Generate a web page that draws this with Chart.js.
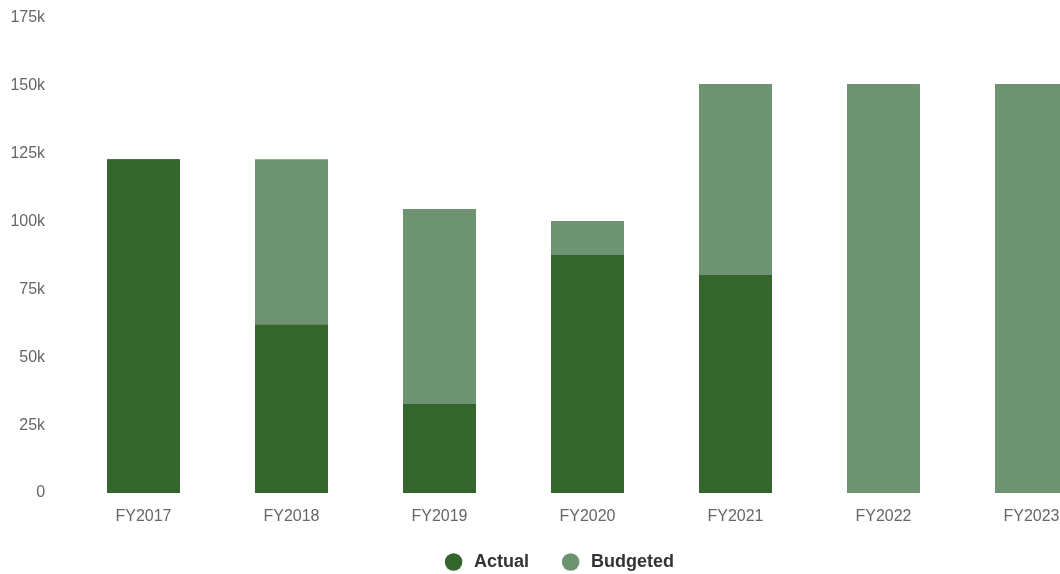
<!DOCTYPE html>
<html>
<head>
<meta charset="utf-8">
<script src="https://cdn.jsdelivr.net/npm/chart.js@4.4.1/dist/chart.umd.min.js"></script>
<style>
  html, body { margin: 0; padding: 0; background: #fff; overflow: hidden; }
  #wrap { position: absolute; left: 0; top: 0; width: 1118px; height: 581px; }
</style>
</head>
<body>
<div id="wrap"><canvas id="c"></canvas></div>
<script>
const categories = ['FY2017', 'FY2018', 'FY2019', 'FY2020', 'FY2021', 'FY2022', 'FY2023'];
const actual = [123000, 62000, 32800, 87700, 80300, null, null];
const budgeted = [123000, 123000, 104600, 100200, 150700, 150700, 150700];
const yTicks = [0, 25000, 50000, 75000, 100000, 125000, 150000, 175000];
const tickLabels = ['0', '25k', '50k', '75k', '100k', '125k', '150k', '175k'];
const colors = ['#33652d', '#6e9370'];

const FONT = '"Liberation Sans", Arial, Helvetica, sans-serif';
Chart.defaults.font.family = FONT;

function legendDot(color) {
  const c = document.createElement('canvas');
  c.width = 25; c.height = 20;
  const g = c.getContext('2d');
  g.fillStyle = color;
  g.beginPath();
  g.arc(13.6, 10, 8.8, 0, Math.PI * 2);
  g.fill();
  return c;
}
const dots = colors.map(legendDot);

new Chart(document.getElementById('c'), {
  type: 'bar',
  data: {
    labels: categories,
    datasets: [
      { label: 'Actual', data: actual, backgroundColor: colors[0], borderWidth: 0 },
      { label: 'Budgeted', data: budgeted, backgroundColor: colors[1], borderWidth: 0 }
    ]
  },
  options: {
    responsive: true,
    maintainAspectRatio: false,
    animation: false,
    layout: { padding: { left: 8.5, right: 12.5, top: 0, bottom: 0 } },
    datasets: { bar: { barPercentage: 0.493, categoryPercentage: 1.0 } },
    scales: {
      x: {
        stacked: true,
        grid: { display: false, drawTicks: true, tickLength: 14 },
        border: { display: false },
        ticks: { color: '#666', font: { size: 16 }, padding: 0 },
        afterFit: (s) => { s.height = 32; }
      },
      y: {
        stacked: false,
        min: 0, max: 175000,
        afterBuildTicks: (axis) => { axis.ticks = yTicks.map(v => ({ value: v })); },
        grid: { display: false, drawTicks: true, tickLength: 16 },
        border: { display: false },
        ticks: {
          color: '#666', font: { size: 16 }, padding: 8.4,
          callback: (v) => { const i = yTicks.indexOf(v); return i >= 0 ? tickLabels[i] : ''; }
        },
        afterFit: (s) => { s.width = 61; }
      }
    },
    plugins: {
      tooltip: { enabled: false },
      legend: {
        position: 'bottom',
        labels: {
          usePointStyle: true,
          pointStyleWidth: 25,
          boxHeight: 12,
          color: '#333', padding: 28,
          font: { size: 18, weight: 'bold' },
          generateLabels: (chart) => {
            const items = Chart.defaults.plugins.legend.labels.generateLabels(chart);
            items.forEach((it, i) => { it.pointStyle = dots[i]; });
            return items;
          }
        }
      }
    }
  }
});
</script>
</body>
</html>
